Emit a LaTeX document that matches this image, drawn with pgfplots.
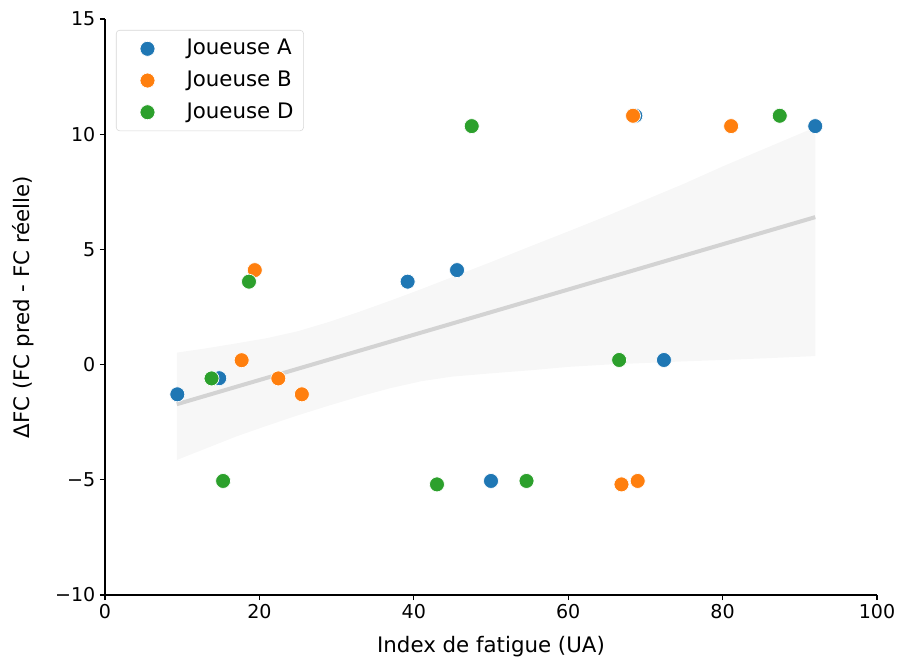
\documentclass[border=0pt]{standalone}
\usepackage{fontspec}
\setmainfont{DejaVu Sans}
\usepackage{pgfplots}
\pgfplotsset{compat=1.18}
\definecolor{cA}{HTML}{1F77B4}
\definecolor{cB}{HTML}{FF7F0E}
\definecolor{cD}{HTML}{2CA02C}
\definecolor{bandc}{RGB}{247,247,247}
\definecolor{linec}{RGB}{211,211,211}
\definecolor{legframe}{RGB}{214,214,214}
\begin{document}
\begin{tikzpicture}
\useasboundingbox (-78.75pt,-48pt) rectangle (594.75pt,446.25pt);
\begin{axis}[
  at={(0,0)}, anchor=south west,
  scale only axis, width=579pt, height=432pt,
  xmin=0, xmax=100, ymin=-10, ymax=15,
  axis x line*=bottom, axis y line*=left,
  axis line style={-, black, line width=0.8pt},
  xtick={0,20,40,60,80,100},
  ytick={-10,-5,0,5,10,15},
  yticklabels={−10,−5,0,5,10,15},
  xticklabels={0,20,40,60,80,100},
  tick align=outside, major tick length=3.75pt,
  tick style={black, line width=0.8pt},
  xtick pos=bottom, ytick pos=left,
  ticklabel style={font=\fontsize{14.3}{17}\selectfont},
  xlabel={Index de fatigue (UA)},
  ylabel={ΔFC (FC pred - FC réelle)},
  xlabel style={at={(axis description cs:0.5,-0.1007)}, anchor=base, font=\fontsize{16}{19}\selectfont},
  ylabel style={at={(axis description cs:-0.098,0.5)}, anchor=base, rotate=0, font=\fontsize{16}{19}\selectfont},
  legend style={at={(0,1)}, anchor=north west, xshift=8.25pt, yshift=-8.25pt,
    draw=legframe, rounded corners=2.5pt, fill=white,
    font=\fontsize{16}{19}\selectfont, inner xsep=7.5pt, inner ysep=6.4pt,
    row sep=8.8pt,
    nodes={inner sep=0pt, text height=12pt, text depth=3pt},
    /tikz/every odd column/.append style={column sep=20.75pt}},
  legend cell align=left,
  legend image code/.code={\path[draw=none, fill=none] (-0.26cm,0cm) -- (0.6cm,0cm);
    \draw[#1, only marks] plot coordinates {(0.3cm,0cm)};},
  clip=false,
]
% confidence band
\addplot[fill=bandc, draw=none, forget plot] coordinates {
 (9.3,0.52) (13,0.70) (17,0.92) (21,1.15) (25,1.45) (29,1.85) (33,2.3) (37,2.78) (41,3.28) (45,3.8) (50,4.45) (55,5.12) (60,5.78) (65,6.45) (70,7.15) (75,7.85) (80,8.6) (86,9.45) (92,10.3)
 (92,0.37) (86,0.28) (80,0.2) (75,0.14) (70,0.07) (65,0.0) (60,-0.1) (55,-0.25) (50,-0.38) (45,-0.52) (41,-0.72) (37,-1.02) (33,-1.38) (29,-1.78) (25,-2.2) (21,-2.65) (17,-3.12) (13,-3.65) (9.3,-4.14)
} -- cycle;
% regression line
\addplot[linec, line width=3pt, forget plot] coordinates {(9.3,-1.72) (92,6.4)};
% Joueuse A
\addplot[only marks, mark=*, mark size=5.6pt, mark options={draw=white, fill=cA, line width=0.5pt}] coordinates {
 (9.37,-1.29) (14.8,-0.59) (39.2,3.6) (45.6,4.1) (50.0,-5.05) (72.4,0.2) (68.7,10.8) (92.0,10.35)
};
\addlegendentry{Joueuse A}
% Joueuse B
\addplot[only marks, mark=*, mark size=5.6pt, mark options={draw=white, fill=cB, line width=0.5pt}] coordinates {
 (19.4,4.1) (17.7,0.19) (22.45,-0.6) (25.5,-1.29) (68.4,10.8) (81.1,10.35) (66.9,-5.2) (69.0,-5.05)
};
\addlegendentry{Joueuse B}
% Joueuse D
\addplot[only marks, mark=*, mark size=5.6pt, mark options={draw=white, fill=cD, line width=0.5pt}] coordinates {
 (47.5,10.35) (18.65,3.6) (13.8,-0.6) (15.3,-5.05) (43.0,-5.2) (54.6,-5.05) (66.6,0.2) (87.4,10.8)
};
\addlegendentry{Joueuse D}
\end{axis}
\end{tikzpicture}
\end{document}
